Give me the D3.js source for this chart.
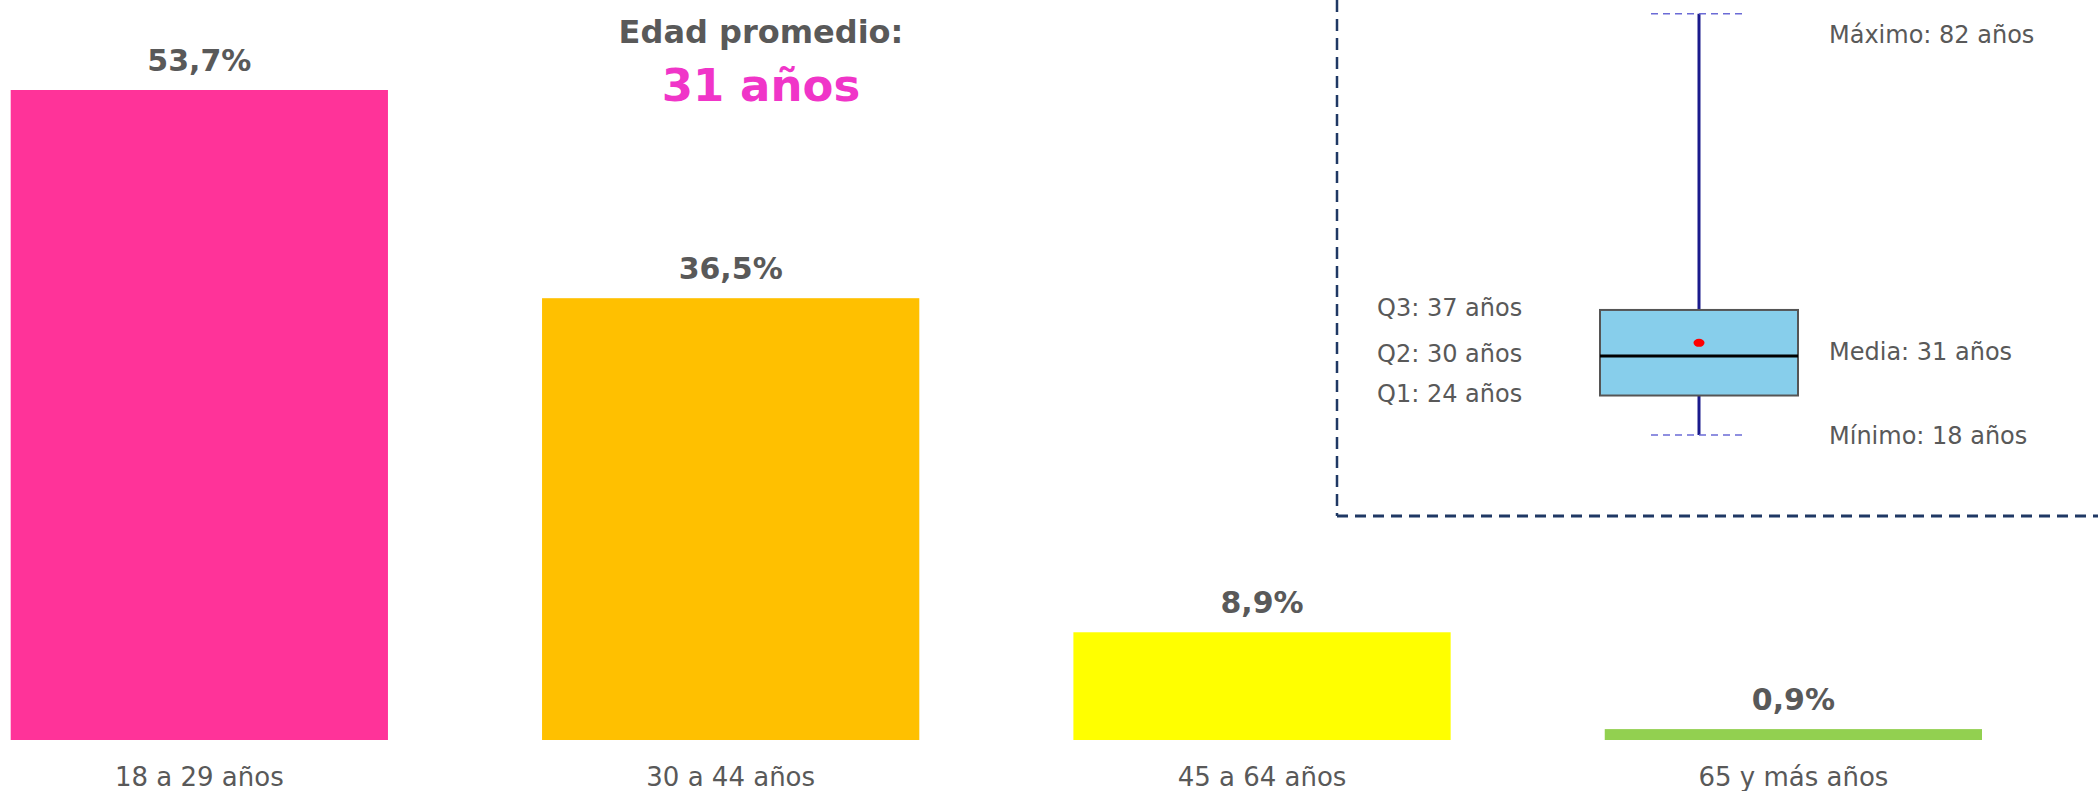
<!DOCTYPE html>
<html>
<head>
  <meta charset="utf-8">
  <title>Edad</title>
  <script src="https://cdnjs.cloudflare.com/ajax/libs/d3/7.8.5/d3.min.js"></script>
  <style>
    body {
        margin: 0;
        background: #ffffff;
        font-family: "Century Gothic", "DejaVu Sans", sans-serif;
    }
    svg { display: block; }
  </style>
</head>
<body>
<div id="chart"></div>
<script>
// bars: age groups
var categories = ['18 a 29 años', '30 a 44 años', '45 a 64 años', '65 y más años'];
var shares = [53.7, 36.5, 8.9, 0.9];
var barColors = ['#FF3399', '#FFC000', '#FFFF00', '#92D050'];

// boxplot of age
var boxStats = {min: 18, q1: 24, median: 30, q3: 37, max: 82};
var meanAge = 32;   // where the red dot sits
var leftLabels = ['Q3: 37 años', 'Q2: 30 años', 'Q1: 24 años'];
var rightLabels = ['Máximo: 82 años', 'Media: 31 años', 'Mínimo: 18 años'];

var titleText = 'Edad promedio:';
var titleValue = '31 años';

//----------------------------------------
var width = 2098,
    height = 791;

var svg = d3.select('#chart').append('svg')
    .attr('width', width)
    .attr('height', height);

var grey = '#595959';

//----------------------------------------
// bar chart
var x = d3.scaleBand()
    .domain(categories)
    .range([10.7, 1982])
    .paddingInner(0.29)
    .paddingOuter(0);

var y = d3.scaleLinear()
    .domain([0, d3.max(shares)])
    .range([740, 90]);

var rows = categories.map(function(c, i) {
    return {cat: c, val: shares[i], color: barColors[i]};
});

svg.selectAll('rect.bar')
    .data(rows)
    .enter()
    .append('rect')
    .attr('class', 'bar')
    .attr('x', function(d) { return x(d.cat); })
    .attr('y', function(d) { return y(d.val); })
    .attr('width', x.bandwidth())
    .attr('height', function(d) { return y(0) - y(d.val); })
    .style('fill', function(d) { return d.color; });

svg.selectAll('text.val')
    .data(rows)
    .enter()
    .append('text')
    .attr('class', 'val')
    .attr('x', function(d) { return x(d.cat) + x.bandwidth() / 2; })
    .attr('y', function(d) { return y(d.val) - 19; })
    .attr('text-anchor', 'middle')
    .style('font-size', '30px')
    .style('font-weight', 'bold')
    .style('fill', grey)
    .text(function(d) { return d.val.toFixed(1).replace('.', ',') + '%'; });

// category labels (axis without line/ticks)
var xAxis = svg.append('g')
    .attr('transform', 'translate(0,' + 760 + ')')
    .call(d3.axisBottom(x).tickSize(0).tickPadding(0));
xAxis.select('.domain').remove();
xAxis.selectAll('text')
    .attr('dy', '26px')
    .style('font-family', '"Century Gothic", "DejaVu Sans", sans-serif')
    .style('font-size', '26px')
    .style('fill', grey);

//----------------------------------------
// average age title
svg.append('text')
    .attr('x', 761)
    .attr('y', 43)
    .attr('text-anchor', 'middle')
    .style('font-size', '32px')
    .style('font-weight', 'bold')
    .style('fill', grey)
    .text(titleText);

svg.append('text')
    .attr('x', 761)
    .attr('y', 101)
    .attr('text-anchor', 'middle')
    .style('font-size', '45px')
    .style('font-weight', 'bold')
    .style('fill', '#F035C8')
    .text(titleValue);

//----------------------------------------
// dashed frame round the boxplot
var frame = '#1F3864';
svg.append('line')
    .attr('x1', 1337).attr('x2', 1337)
    .attr('y1', 0).attr('y2', 516)
    .style('stroke', frame)
    .style('stroke-width', 2.5)
    .style('stroke-dasharray', '12,7');
svg.append('line')
    .attr('x1', 1337).attr('x2', width)
    .attr('y1', 516).attr('y2', 516)
    .style('stroke', frame)
    .style('stroke-width', 3)
    .style('stroke-dasharray', '11,7');

//----------------------------------------
// boxplot
var yB = d3.scaleLinear()
    .domain([boxStats.min, boxStats.max])
    .range([435, 13.8]);

var xB = d3.scaleBand()
    .domain(['edad'])
    .range([1600, 1798]);

var cx = xB('edad') + xB.bandwidth() / 2;
var capHalf = 48;

// whiskers
svg.append('line')
    .attr('x1', cx).attr('x2', cx)
    .attr('y1', yB(boxStats.max)).attr('y2', yB(boxStats.q3))
    .style('stroke', '#1A1A8C')
    .style('stroke-width', 3);
svg.append('line')
    .attr('x1', cx).attr('x2', cx)
    .attr('y1', yB(boxStats.q1)).attr('y2', yB(boxStats.min))
    .style('stroke', '#1A1A8C')
    .style('stroke-width', 3);

// caps
svg.selectAll('line.cap')
    .data([boxStats.max, boxStats.min])
    .enter()
    .append('line')
    .attr('class', 'cap')
    .attr('x1', cx - capHalf).attr('x2', cx + capHalf)
    .attr('y1', function(d) { return yB(d); })
    .attr('y2', function(d) { return yB(d); })
    .style('stroke', '#6B6BD6')
    .style('stroke-width', 1.5)
    .style('stroke-dasharray', '7,5');

// box
svg.append('rect')
    .attr('x', xB('edad'))
    .attr('y', yB(boxStats.q3))
    .attr('width', xB.bandwidth())
    .attr('height', yB(boxStats.q1) - yB(boxStats.q3))
    .style('fill', '#87CEEB')
    .style('stroke', '#555555')
    .style('stroke-width', 2);

// median
svg.append('line')
    .attr('x1', xB('edad')).attr('x2', xB('edad') + xB.bandwidth())
    .attr('y1', yB(boxStats.median)).attr('y2', yB(boxStats.median))
    .style('stroke', '#000000')
    .style('stroke-width', 3);

// mean
svg.append('ellipse')
    .attr('cx', cx)
    .attr('cy', yB(meanAge))
    .attr('rx', 5.5)
    .attr('ry', 4)
    .style('fill', '#FF0000');

// labels
var leftVals = [boxStats.q3, boxStats.median, boxStats.q1];
svg.selectAll('text.left')
    .data(leftLabels)
    .enter()
    .append('text')
    .attr('class', 'left')
    .attr('x', 1377)
    .attr('y', function(d, i) { return yB(leftVals[i]) + 6; })
    .style('font-size', '24px')
    .style('fill', grey)
    .text(function(d) { return d; });

// right side: max label sits a bit below its cap, media lines up with Q2
var rightY = [yB(boxStats.max) + 29, yB(boxStats.median) + 4, yB(boxStats.min) + 9];
svg.selectAll('text.right')
    .data(rightLabels)
    .enter()
    .append('text')
    .attr('class', 'right')
    .attr('x', 1829)
    .attr('y', function(d, i) { return rightY[i]; })
    .style('font-size', '24px')
    .style('fill', grey)
    .text(function(d) { return d; });
</script>
</body>
</html>
